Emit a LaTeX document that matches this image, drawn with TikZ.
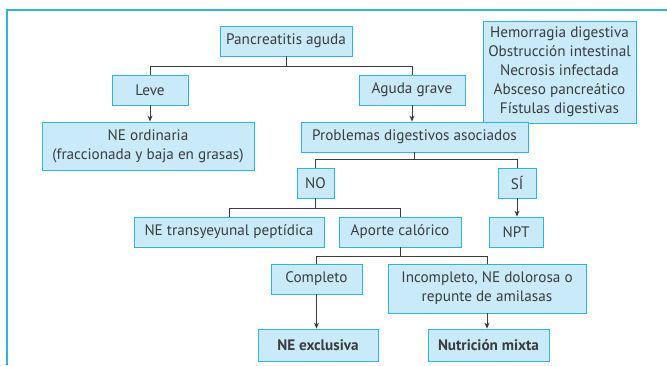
\documentclass[tikz,border=0pt]{standalone}
\usepackage{fontspec}
\setmainfont{PT Sans}
\usetikzlibrary{shadows,arrows.meta}

\definecolor{relleno}{HTML}{C9EAF9}
\definecolor{borde}{HTML}{2DB3E6}
\definecolor{linea}{HTML}{3C3C3C}

\begin{document}
\begin{tikzpicture}[x=1pt,y=-1pt]
\tikzstyle{caja}=[draw=borde, fill=relleno, line width=0.8pt, minimum height=30pt, inner sep=2pt, text=linea, font=\fontsize{15.2}{19}\selectfont, align=center, drop shadow={shadow xshift=0.8pt, shadow yshift=-1.3pt, fill=borde, opacity=1}]
\tikzstyle{rama}=[draw=linea, line width=1pt]
\tikzstyle{flecha}=[rama, -{Stealth[length=6pt,width=5pt]}]
\useasboundingbox (0,0) rectangle (667,365);
\draw [borde, line width=2pt] (7,365) -- (7,10) -- (667,10);
% nivel 1
\node [caja, minimum width=132pt] (pa) at (286,41) {Pancreatitis aguda};
\node [caja, minimum width=153pt, minimum height=102pt] (lista) at (559.5,72) {Hemorragia digestiva\\Obstrucción intestinal\\Necrosis infectada\\Absceso pancreático\\Fístulas digestivas};
% nivel 2
\node [caja, minimum width=76pt] (leve) at (150,90) {Leve};
\node [caja, minimum width=106pt] (grave) at (412,90) {Aguda grave};
\node [caja, minimum width=212pt, minimum height=48pt] (neord) at (148,146) {NE ordinaria\\(fraccionada y baja en grasas)};
\node [caja, minimum width=227pt] (prob) at (414.5,137) {Problemas digestivos asociados};
% nivel 3
\node [caja, minimum width=37pt] (no) at (315.5,183) {NO};
\node [caja, minimum width=38pt] (si) at (517,183) {SÍ};
\node [caja, minimum width=190pt] (trans) at (229,232) {NE transyeyunal peptídica};
\node [caja, minimum width=122pt] (aporte) at (400,232) {Aporte calórico};
\node [caja, minimum width=54pt] (npt) at (516,232) {NPT};
% nivel 4
\node [caja, minimum width=91pt] (comp) at (316.5,279) {Completo};
\node [caja, minimum width=198pt, minimum height=49pt] (incomp) at (487,288.5) {Incompleto, NE dolorosa o\\repunte de amilasas};
\node [caja, minimum width=120pt, minimum height=32pt, font=\fontsize{15.2}{19}\selectfont\bfseries] (excl) at (318,345) {NE exclusiva};
\node [caja, minimum width=121pt, minimum height=32pt, font=\fontsize{15.2}{19}\selectfont\bfseries] (mixta) at (488.5,345) {Nutrición mixta};
% conectores
\draw [rama] (pa.south) -- ++(0,10) -| (leve.north);
\draw [rama] (pa.south) -- ++(0,10) -| (grave.north);
\draw [flecha] (leve.south) -- (leve.south |- neord.north);
\draw [flecha] (grave.south) -- (grave.south |- prob.north);
\draw [rama] (prob.south) -- ++(0,7) -| (no.north);
\draw [rama] (prob.south) -- ++(0,7) -| (si.north);
\draw [rama] (no.south) -- ++(0,10) -| (trans.north);
\draw [rama] (no.south) -- ++(0,10) -| (aporte.north);
\draw [flecha] (si.south) -- (si.south |- npt.north);
\draw [rama] (aporte.south) -- ++(0,9) -| (comp.north);
\draw [rama] (aporte.south) -- ++(0,9) -| (incomp.north);
\draw [flecha] (comp.south) -- (comp.south |- excl.north);
\draw [flecha] (incomp.south) -- (incomp.south |- mixta.north);
\end{tikzpicture}
\end{document}
